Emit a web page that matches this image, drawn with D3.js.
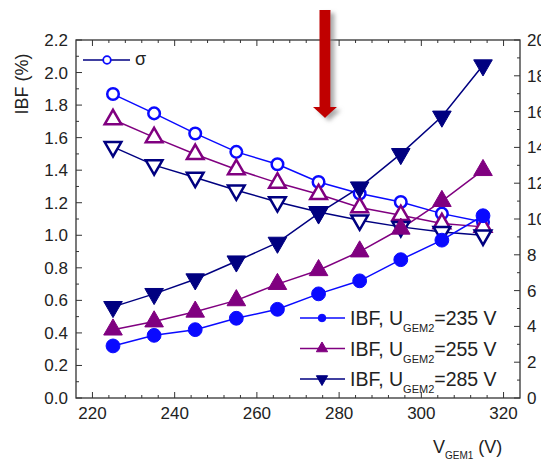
<!DOCTYPE html>
<html>
<head>
<meta charset="utf-8">
<script src="https://cdn.jsdelivr.net/npm/d3@7"></script>
<style>
  body { margin: 0; background: #fff; }
  svg { display: block; font-family: "Liberation Sans", Arial, sans-serif; }
</style>
</head>
<body>
<div id="chart"></div>
<script>
// V_GEM1 values (V)
var v_gem1 = [225, 235, 245, 255, 265, 275, 285, 295, 305, 315]
// IBF (%) -> left axis
var ibf_235 = [0.32, 0.385, 0.42, 0.49, 0.545, 0.64, 0.72, 0.85, 0.97, 1.12]
var ibf_255 = [0.42, 0.47, 0.53, 0.60, 0.70, 0.785, 0.90, 1.04, 1.21, 1.40]
var ibf_285 = [0.56, 0.64, 0.73, 0.84, 0.955, 1.135, 1.295, 1.50, 1.73, 2.045]
// sigma -> right axis
var sig_235 = [16.98, 15.9, 14.78, 13.75, 13.06, 12.07, 11.42, 10.95, 10.3, 9.83]
var sig_255 = [15.56, 14.56, 13.62, 12.77, 12.02, 11.38, 10.64, 10.21, 9.75, 9.56]
var sig_285 = [14.03, 13.01, 12.32, 11.61, 10.95, 10.39, 9.93, 9.56, 9.28, 9.09]

var x_ticks = [220, 240, 260, 280, 300, 320]
var left_ticks = [0.0, 0.2, 0.4, 0.6, 0.8, 1.0, 1.2, 1.4, 1.6, 1.8, 2.0, 2.2]
var right_ticks = [0, 2, 4, 6, 8, 10, 12, 14, 16, 18, 20]
var legend_labels = ["235", "255", "285"]

var width = 541, height = 462
var padding = { "left": 76, "right": 21, "top": 40, "bottom": 64 }
var col_blue = "#0a0aff", col_purple = "#800080", col_navy = "#000080"

var svg = d3.select("#chart").append("svg")
    .attr("width", width)
    .attr("height", height)

var defs = svg.append("defs")
var shadow = defs.append("filter").attr("id", "shadow")
    .attr("x", "-50%").attr("y", "-20%").attr("width", "200%").attr("height", "140%")
shadow.append("feDropShadow").attr("dx", 4).attr("dy", 3)
    .attr("stdDeviation", 2).attr("flood-color", "#888").attr("flood-opacity", 0.7)

var x_scale = d3.scaleLinear().domain([216, 324])
    .range([padding.left, width - padding.right])
var y_left = d3.scaleLinear().domain([0, 2.2])
    .range([height - padding.bottom, padding.top])
var y_right = d3.scaleLinear().domain([0, 20])
    .range([height - padding.bottom, padding.top])

var x0 = padding.left, x1 = width - padding.right
var y0 = height - padding.bottom, y1 = padding.top

// ticks (inward)
var tick_g = svg.append("g").attr("stroke", "#333").attr("stroke-width", 1)
d3.range(220, 321, 4).forEach(function (v) {
    var len = (v % 20 == 0) ? 6 : 3
    tick_g.append("line").attr("x1", x_scale(v)).attr("x2", x_scale(v))
        .attr("y1", y0).attr("y2", y0 - len)
    tick_g.append("line").attr("x1", x_scale(v)).attr("x2", x_scale(v))
        .attr("y1", y1).attr("y2", y1 + len)
})
d3.range(0, 23).forEach(function (i) {
    var v = i / 10
    var len = (i % 2 == 0) ? 6 : 3
    tick_g.append("line").attr("x1", x0).attr("x2", x0 + len)
        .attr("y1", y_left(v)).attr("y2", y_left(v))
})
d3.range(0, 21).forEach(function (v) {
    var len = (v % 2 == 0) ? 6 : 3
    tick_g.append("line").attr("x1", x1).attr("x2", x1 - len)
        .attr("y1", y_right(v)).attr("y2", y_right(v))
})

svg.append("rect").attr("x", x0).attr("y", y1)
    .attr("width", x1 - x0).attr("height", y0 - y1)
    .attr("fill", "none").attr("stroke", "#333").attr("stroke-width", 1.3)

// tick labels
svg.selectAll(".xlab").data(x_ticks).enter().append("text")
    .attr("x", function (d) { return x_scale(d) })
    .attr("y", y0 + 21)
    .attr("text-anchor", "middle").attr("font-size", 17).attr("fill", "#222")
    .text(function (d) { return d })
svg.selectAll(".ylab").data(left_ticks).enter().append("text")
    .attr("x", x0 - 8)
    .attr("y", function (d) { return y_left(d) + 6 })
    .attr("text-anchor", "end").attr("font-size", 17).attr("fill", "#222")
    .text(function (d) { return d.toFixed(1) })
svg.selectAll(".rlab").data(right_ticks).enter().append("text")
    .attr("x", x1 + 7)
    .attr("y", function (d) { return y_right(d) + 6 })
    .attr("font-size", 17).attr("fill", "#222")
    .text(function (d) { return d })

// axis titles
svg.append("text").attr("transform", "translate(28,84) rotate(-90)")
    .attr("text-anchor", "middle").attr("font-size", 18).attr("fill", "#222")
    .text("IBF (%)")
var xt = svg.append("text").attr("x", 433).attr("y", 453)
    .attr("font-size", 18).attr("fill", "#222")
xt.append("tspan").text("V")
xt.append("tspan").attr("font-size", 10).attr("dy", 6).text("GEM1")
xt.append("tspan").attr("dy", -6).text(" (V)")

// series
var series = [
    { vals: sig_235, y: y_right, col: col_blue, shape: "circle", fill: false },
    { vals: sig_255, y: y_right, col: col_purple, shape: "up", fill: false },
    { vals: sig_285, y: y_right, col: col_navy, shape: "down", fill: false },
    { vals: ibf_235, y: y_left, col: col_blue, shape: "circle", fill: true },
    { vals: ibf_255, y: y_left, col: col_purple, shape: "up", fill: true },
    { vals: ibf_285, y: y_left, col: col_navy, shape: "down", fill: true }
]

function symbol_path(shape, size) {
    var t = shape == "circle" ? d3.symbolCircle : d3.symbolTriangle
    return d3.symbol().type(t).size(size)()
}

function draw_marker(g, shape, filled, col, cx, cy, big) {
    var size
    if (shape == "circle") size = big ? (filled ? 150 : 105) : 45
    else size = big ? (filled ? 150 : 120) : 55
    var rot = shape == "down" ? 180 : 0
    g.append("path")
        .attr("d", symbol_path(shape, size))
        .attr("transform", "translate(" + cx + "," + cy + ") rotate(" + rot + ")")
        .attr("fill", filled ? col : "#fff")
        .attr("stroke", col)
        .attr("stroke-width", filled ? 1 : (big ? 2.5 : 1.8))
}

series.forEach(function (s) {
    var line = d3.line()
        .x(function (d, i) { return x_scale(v_gem1[i]) })
        .y(function (d) { return s.y(d) })
    svg.append("path").datum(s.vals)
        .attr("d", line).attr("fill", "none")
        .attr("stroke", s.col).attr("stroke-width", 1.5)
})
series.forEach(function (s) {
    var g = svg.append("g")
    s.vals.forEach(function (d, i) {
        draw_marker(g, s.shape, s.fill, s.col, x_scale(v_gem1[i]), s.y(d), true)
    })
})

// legend: sigma
var lg = svg.append("g")
lg.append("line").attr("x1", 83).attr("x2", 130).attr("y1", 60).attr("y2", 60)
    .attr("stroke", col_navy).attr("stroke-width", 1.5)
draw_marker(lg, "circle", false, col_blue, 107, 60, false)
lg.append("text").attr("x", 135).attr("y", 65).attr("font-size", 18).attr("fill", "#222").text("σ")

// legend: IBF
var leg_series = series.slice(3)
leg_series.forEach(function (s, i) {
    var ly = 318 + i * 30.5
    lg.append("line").attr("x1", 300).attr("x2", 345).attr("y1", ly).attr("y2", ly)
        .attr("stroke", s.col).attr("stroke-width", 1.5)
    draw_marker(lg, s.shape, true, s.col, 322, ly, false)
    var t = lg.append("text").attr("x", 350).attr("y", ly + 7)
        .attr("font-size", 19.5).attr("fill", "#222")
    t.append("tspan").text("IBF, U")
    t.append("tspan").attr("font-size", 11).attr("dy", 7).text("GEM2")
    t.append("tspan").attr("dy", -7).text("=" + legend_labels[i] + " V")
})

// red arrow
var arrow = svg.append("g").attr("filter", "url(#shadow)")
arrow.append("path")
    .attr("d", "M319.5,10 L330.5,10 L330.5,107 L337,107 L325,118 L313,107 L319.5,107 Z")
    .attr("fill", "#c00000")
</script>
</body>
</html>
